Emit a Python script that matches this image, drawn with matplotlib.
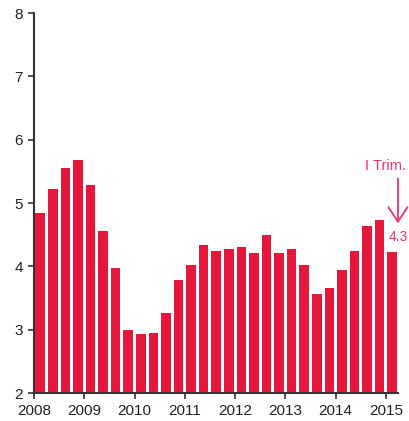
import matplotlib.pyplot as plt
import numpy as np

# quarterly values, 2008 Q1 .. 2015 Q1
values = [4.84, 5.22, 5.56, 5.68,
          5.28, 4.56, 3.98, 2.99,
          2.93, 2.95, 3.27, 3.79,
          4.03, 4.34, 4.24, 4.27,
          4.31, 4.21, 4.49, 4.21,
          4.28, 4.03, 3.57, 3.66,
          3.94, 4.24, 4.64, 4.73,
          4.23]
years = [2008, 2009, 2010, 2011, 2012, 2013, 2014, 2015]
yticks = [2, 3, 4, 5, 6, 7, 8]
last_label = "4.3"
note_label = "I Trim."

bar_color = "#e5173b"
note_color = "#e8336b"
axis_color = "#333333"

plt.rcParams['font.family'] = ['Liberation Sans', 'DejaVu Sans']

fig = plt.figure(figsize=(4.09, 4.21), dpi=100)
ax = fig.add_axes([0.083, 0.066, 0.89, 0.903])

# bar positions in years, centred in each quarter
x = 2008 + (np.arange(len(values)) + 0.5) / 4.0
ax.bar(x, values, width=0.19, color=bar_color, bottom=0)

ax.set_ylim(2, 8)
ax.set_xlim(2008, 2015.24)
ax.set_yticks(yticks)
ax.set_xticks(years)
ax.set_xticklabels([str(y) for y in years])

# axes look
for side in ['top', 'right']:
    ax.spines[side].set_visible(False)
for side in ['left', 'bottom']:
    ax.spines[side].set_color(axis_color)
    ax.spines[side].set_linewidth(1.5)
ax.tick_params(axis='both', colors=axis_color, labelcolor='#222222',
               length=4, width=1.2, labelsize=11)
ax.tick_params(axis='y', pad=4)

# annotation for the last quarter
ax.annotate("", xy=(2015.24, 4.68), xytext=(2015.24, 5.39),
            arrowprops=dict(arrowstyle='->,head_length=0.55,head_width=0.36',
                            color=note_color, lw=1.3, mutation_scale=19,
                            shrinkA=0, shrinkB=0),
            annotation_clip=False)
ax.text(2015.0, 5.58, note_label, color=note_color,
        fontsize=10.5, ha='center', va='center', clip_on=False)
ax.text(2015.06, 4.46, last_label, color=note_color,
        fontsize=10, ha='left', va='center', clip_on=False)

plt.savefig("out.png", dpi=100)
plt.close()
